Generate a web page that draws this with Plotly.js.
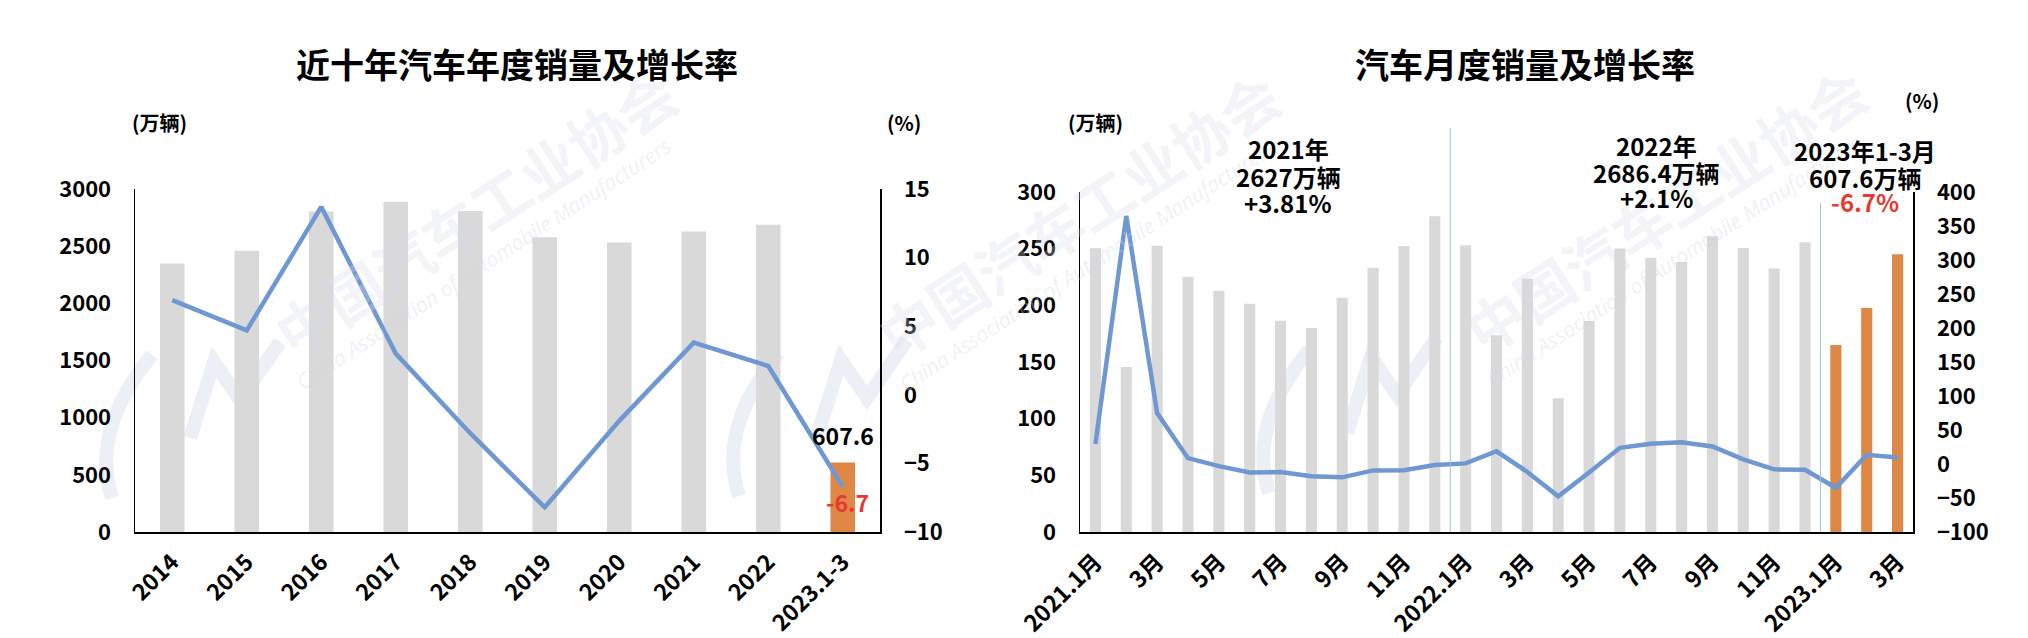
<!DOCTYPE html>
<html>
<head>
<meta charset="utf-8">
<script src="https://cdn.plot.ly/plotly-3.0.1.min.js"></script>
<style>
html,body{margin:0;padding:0;background:#fff;}
#chart{width:2028px;height:638px;}
</style>
</head>
<body>
<div id="chart"></div>
<script>
// ---- Data ----
const annualCats = ['2014','2015','2016','2017','2018','2019','2020','2021','2022','2023.1-3'];
const annualSales = [2349.2, 2459.8, 2802.8, 2887.9, 2808.1, 2576.9, 2531.1, 2627.5, 2686.4, 607.6];
const annualGrowth = [6.9, 4.7, 13.7, 3.0, -2.8, -8.2, -1.9, 3.8, 2.1, -6.7];

const monthCats = ['2021.1','2021.2','2021.3','2021.4','2021.5','2021.6','2021.7','2021.8','2021.9','2021.10','2021.11','2021.12',
                   '2022.1','2022.2','2022.3','2022.4','2022.5','2022.6','2022.7','2022.8','2022.9','2022.10','2022.11','2022.12',
                   '2023.1','2023.2','2023.3'];
const monthSales = [250.3, 145.5, 252.6, 225.2, 212.8, 201.5, 186.4, 179.9, 206.7, 233.2, 252.1, 278.6,
                    253.1, 173.7, 223.4, 118.1, 186.2, 250.2, 242.0, 238.3, 261.0, 250.5, 232.6, 255.6,
                    164.9, 197.6, 245.1];
const monthGrowth = [29.5, 364.8, 74.9, 8.6, -3.1, -12.4, -11.9, -18.1, -19.6, -9.4, -9.1, -1.6,
                     0.9, 18.7, -11.7, -47.6, -12.6, 23.8, 29.7, 32.1, 25.7, 6.9, -7.9, -8.4,
                     -35.0, 13.5, 9.7];
const monthTickLabels = ['2021.1月','3月','5月','7月','9月','11月','2022.1月','3月','5月','7月','9月','11月','2023.1月','3月'];

const titles = ['近十年汽车年度销量及增长率', '汽车月度销量及增长率'];
const unitLeft = '(万辆)';
const unitRight = '(%)';
const summaries = [
  ['2021年', '2627万辆', '+3.81%'],
  ['2022年', '2686.4万辆', '+2.1%'],
  ['2023年1-3月', '607.6万辆', '-6.7%']
];
const watermarkCN = '中国汽车工业协会';
const watermarkEN = 'China Association of Automobile Manufacturers';

// ---- Styling ----
const W = 2028, H = 638;
const FONT = '"Noto Sans CJK SC", "Noto Sans", sans-serif';
const GREY = '#d9d9d9', ORANGE = '#df8744', BLUE = '#6f98d3', RED = '#e53a30';
const fx = p => p / W;
const fy = p => 1 - p / H;

const lastIdx = annualCats.length - 1;
const annualColors = annualCats.map((c, i) => i === lastIdx ? ORANGE : GREY);
const monthColors = monthCats.map(c => c.startsWith('2023') ? ORANGE : GREY);
const monthTickVals = monthCats.filter((c, i) => i % 2 === 0);

const tickFont = {family: FONT, size: 22, color: '#000', weight: 'bold'};
const xTickFont = {family: FONT, size: 23, color: '#000', weight: 'bold'};

const traces = [
  {type: 'bar', x: annualCats, y: annualSales, xaxis: 'x', yaxis: 'y',
   marker: {color: annualColors}, width: annualCats.map(() => 0.33)},
  {type: 'scatter', mode: 'lines', x: annualCats, y: annualGrowth, xaxis: 'x', yaxis: 'y2',
   line: {color: BLUE, width: 4.5}},
  {type: 'bar', x: monthCats, y: monthSales, xaxis: 'x2', yaxis: 'y3',
   marker: {color: monthColors}, width: monthCats.map(() => 0.36)},
  {type: 'scatter', mode: 'lines', x: monthCats, y: monthGrowth, xaxis: 'x2', yaxis: 'y4',
   line: {color: BLUE, width: 4.5}}
];

const yDomL = [fy(532), fy(189)];
const yDomR = [fy(532), fy(192)];

const baseY = {showgrid: false, zeroline: false, showline: true, linecolor: '#000', linewidth: 1.5,
               ticks: '', tickfont: tickFont, fixedrange: true};
const baseX = {type: 'category', showgrid: false, zeroline: false, showline: true, linecolor: '#000',
               linewidth: 1.5, ticks: '', tickfont: xTickFont, tickangle: -45};

const annotations = [];
function note(px, py, text, font, extra) {
  annotations.push(Object.assign({xref: 'paper', yref: 'paper', x: fx(px), y: fy(py), text: text,
    showarrow: false, xanchor: 'center', yanchor: 'middle', font: font}, extra || {}));
}
// watermarks
[[475, 212], [1078, 214], [1665, 209]].forEach(([cx, cy]) => {
  note(cx, cy, watermarkCN, {family: FONT, size: 58, color: 'rgba(215,220,234,0.3)', weight: 'bold'}, {textangle: -33});
  note(cx + 8, cy + 52, watermarkEN, {family: '"Open Sans", sans-serif', size: 21, color: 'rgba(210,216,230,0.35)', style: 'italic'}, {textangle: -33});
});
// titles
note(517, 64, titles[0], {family: FONT, size: 34, color: '#000', weight: 'bold'});
note(1525, 64, titles[1], {family: FONT, size: 34, color: '#000', weight: 'bold'});
// units
const unitFont = {family: FONT, size: 20, color: '#000', weight: 'bold'};
note(159, 123, unitLeft, unitFont);
note(904, 123, unitRight, unitFont);
note(1095, 122, unitLeft, unitFont);
note(1922, 100, unitRight, unitFont);
// data labels on left chart
annotations.push({xref: 'x', yref: 'y', x: annualCats[lastIdx], y: annualSales[lastIdx], text: String(annualSales[lastIdx]),
  showarrow: false, xanchor: 'center', yanchor: 'middle', yshift: 28, font: {family: FONT, size: 23, color: '#000', weight: 'bold'}});
annotations.push({xref: 'x', yref: 'y2', x: annualCats[lastIdx], y: annualGrowth[lastIdx], text: String(annualGrowth[lastIdx]),
  showarrow: false, xanchor: 'center', yanchor: 'middle', yshift: -15, xshift: 5, font: {family: FONT, size: 23, color: RED, weight: 'bold'}});
// summaries on right chart
const sumPos = [[1288, [148, 176, 202]], [1656, [146, 172, 198]], [1865, [150, 177, 201]]];
summaries.forEach((lines, k) => {
  lines.forEach((t, j) => {
    const col = (k === 2 && j === 2) ? RED : '#000';
    note(sumPos[k][0], sumPos[k][1][j], t, {family: FONT, size: 24, color: col, weight: 'bold'});
  });
});

const shapes = [
  {type: 'line', xref: 'x2', yref: 'paper', x0: 11.5, x1: 11.5, y0: fy(532), y1: fy(128),
   line: {color: '#9ec3e6', width: 1}},
  {type: 'line', xref: 'x2', yref: 'paper', x0: 23.5, x1: 23.5, y0: fy(532), y1: fy(203),
   line: {color: '#9ec3e6', width: 1}}
];
// faint logo watermarks (decorative), drawn below the data
function logoPath(ox, oy) {
  const P = (x, y) => fx(ox + x) + ',' + fy(oy + y);
  return [
    'M' + P(62, 35) + ' Q' + P(0, 110) + ' ' + P(22, 178),
    'M' + P(100, 118) + ' L' + P(124, 42) + ' L' + P(150, 80) + ' L' + P(190, 22)
  ];
}
[[90, 320], [717, 318], [1247, 315]].forEach(([ox, oy]) => {
  logoPath(ox, oy).forEach(d => shapes.push({type: 'path', xref: 'paper', yref: 'paper', path: d, layer: 'below',
    line: {color: 'rgba(228,232,241,0.7)', width: 14}}));
});

const layout = {
  width: W, height: H, autosize: false,
  margin: {l: 0, r: 0, t: 0, b: 0, pad: 0},
  paper_bgcolor: '#fff', plot_bgcolor: 'rgba(0,0,0,0)',
  showlegend: false,
  xaxis: Object.assign({}, baseX, {domain: [fx(135), fx(880)], anchor: 'y', range: [-0.5, annualCats.length - 0.5],
    ticklabelstandoff: 6}),
  yaxis: Object.assign({}, baseY, {domain: yDomL, anchor: 'x', range: [0, 3000], dtick: 500, tick0: 0,
    ticklabelstandoff: 18}),
  yaxis2: Object.assign({}, baseY, {overlaying: 'y', side: 'right', anchor: 'x', range: [-10, 15], dtick: 5, tick0: -10,
    ticklabelstandoff: 18}),
  xaxis2: Object.assign({}, baseX, {domain: [fx(1080), fx(1913)], anchor: 'y3', range: [-0.5, monthCats.length - 0.5],
    tickmode: 'array', tickvals: monthTickVals, ticktext: monthTickLabels, ticklabelstandoff: 6}),
  yaxis3: Object.assign({}, baseY, {domain: yDomR, anchor: 'x2', range: [0, 300], dtick: 50, tick0: 0,
    ticklabelstandoff: 18}),
  yaxis4: Object.assign({}, baseY, {overlaying: 'y3', side: 'right', anchor: 'x2', range: [-100, 400], dtick: 50, tick0: -100,
    ticklabelstandoff: 18}),
  annotations: annotations,
  shapes: shapes
};

Plotly.newPlot('chart', traces, layout, {staticPlot: true, displayModeBar: false});
</script>
</body>
</html>
